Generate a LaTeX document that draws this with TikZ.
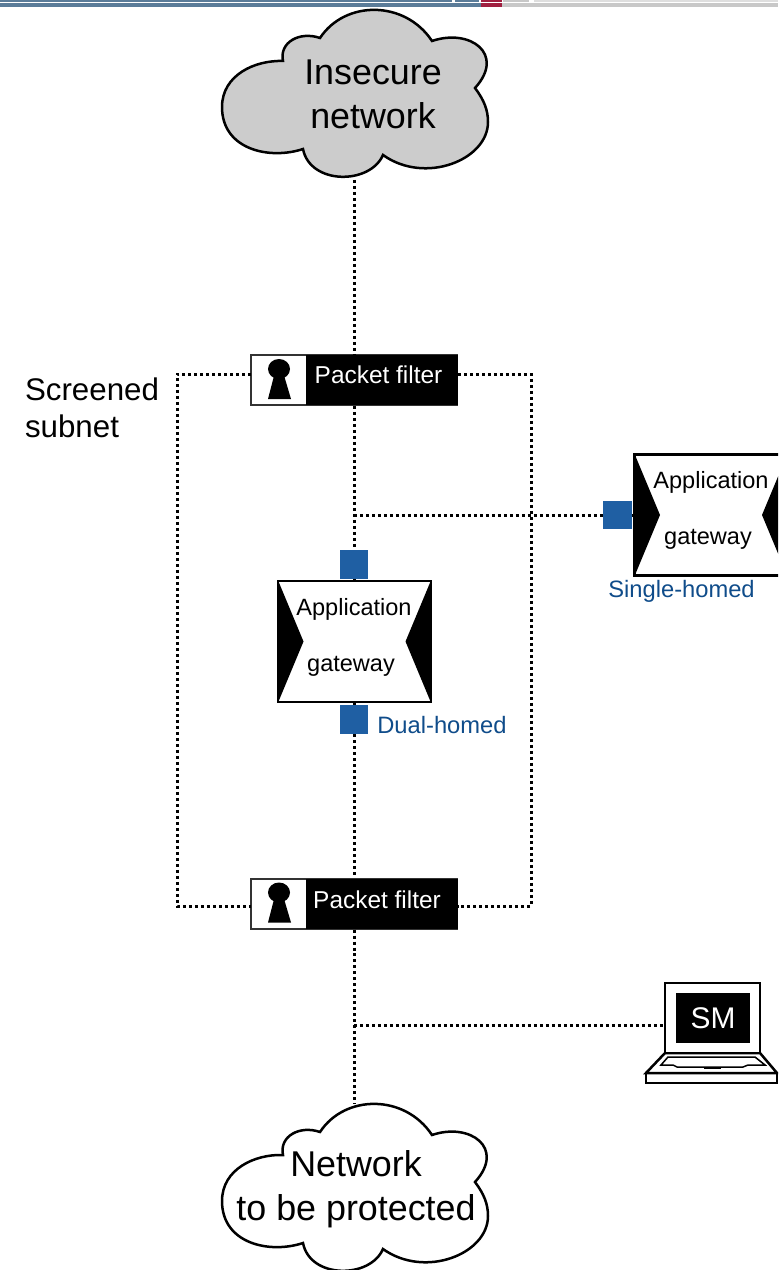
\documentclass[tikz,border=0pt]{standalone}
\usepackage{fontspec}
\setmainfont{Liberation Sans}
\definecolor{cloudgray}{HTML}{CCCCCC}
\definecolor{portblue}{HTML}{1F5FA3}
\definecolor{notetext}{HTML}{0F4C8A}
\definecolor{barblue}{HTML}{5B7C99}
\definecolor{barred}{HTML}{A01F40}
\definecolor{bargray}{HTML}{C8C8C8}
\tikzset{
	netline/.style={line width=0.06cm, dash pattern=on 0.06cm off 0.06cm},
	boxtext/.style={font=\fontsize{13.4}{16}\selectfont},
	filtertext/.style={font=\fontsize{13.9}{16}\selectfont, text=white},
	bigtext/.style={font=\fontsize{20.4}{25}\selectfont, align=center},
	notelabel/.style={font=\fontsize{13.5}{16}\selectfont, text=notetext, anchor=west, inner sep=0},
	portbox/.style={fill=portblue, minimum size=0.57cm, inner sep=0},
	netcloud/.pic={
		\draw [line width=0.05cm, pic actions] (-71, -33) .. controls (-75, -52) and (-54, -63) .. (-34, -56)
		 .. controls (-9, -94) and (51, -94) .. (78, -53)
		 .. controls (116, -66) and (152, -40) .. (121, -6)
		 .. controls (130, 6) and (134, 16) .. (134, 28)
		 .. controls (134, 66) and (71, 91) .. (29, 61)
		 .. controls (16, 91) and (-44, 91) .. (-51, 55)
		 .. controls (-84, 66) and (-132, 56) .. (-132, 13)
		 .. controls (-132, -19) and (-99, -34) .. (-71, -33) -- cycle;
	},
	appgateway/.pic={
		\node [draw, line width=0.05cm, fill=white, minimum width=3.06cm, minimum height=2.42cm, inner sep=0] (-box) at (0, 0) {};
		\fill [black] (-76, -60) -- (-51, 0) -- (-76, 60) -- cycle;
		\fill [black] (76, -60) -- (51, 0) -- (76, 60) -- cycle;
	},
	packetfilter/.pic={
		\node [draw=black!80, line width=0.04cm, fill=white, minimum width=4.14cm, minimum height=1cm, inner sep=0] (-box) at (0, 0) {};
		\fill [black] (-48, -25) rectangle (103.5, 25);
		\fill [black] (-75, -11) ellipse [x radius=11, y radius=10];
		\fill [black] (-79, -8) -- (-71, -8) -- (-63, 19) -- (-86, 19) -- cycle;
	},
}

\begin{document}
\begin{tikzpicture}[x=0.02cm, y=-0.02cm]
		\path [use as bounding box] (0, 0) rectangle (778, 1270);
		\clip (0, 0) rectangle (778, 1270);

		% strip along the top
		\fill [barblue] (0, 0) rectangle (452, 2);
		\fill [barblue] (455, 0) rectangle (479, 2);
		\fill [barred] (481, 0) rectangle (502, 2);
		\fill [bargray] (503, 0) rectangle (529, 2);
		\fill [bargray!60] (534, 0) rectangle (778, 2);
		\fill [barblue] (0, 3) rectangle (481, 7);
		\fill [barred] (481, 3) rectangle (502, 7);
		\fill [bargray] (502, 3) rectangle (778, 7);

		\pic [fill=cloudgray] (insecure) at (354, 94) {netcloud};
		\node [bigtext] (insecuretext) at (373, 94) {Insecure\\network};
		\coordinate (insecureport) at (354, 180);

		\pic (pfa) at (354, 380) {packetfilter};
		\node [filtertext] (pfatext) at (378.5, 375) {Packet filter};
		\coordinate (pfaleft) at (251, 374);
		\coordinate (pfaright) at (458, 374);

		\node [font=\fontsize{17.8}{21}\selectfont, align=left, inner sep=0] (subnet) at (92, 408) {Screened\\subnet};

		\node [portbox] (topport) at (354, 564.5) {};
		\pic (gwa) at (354.5, 641.5) {appgateway};
		\node [boxtext] (gwatop) at (354, 609) {Application};
		\node [boxtext] (gwabot) at (351, 666) {gateway};
		\coordinate (gwain) at (354, 581);
		\coordinate (gwaout) at (354, 702);
		\node [portbox] (botport) at (354, 719.5) {};
		\node [notelabel] (dual) at (377, 725) {Dual-homed};

		\pic (gwb) at (711, 515) {appgateway};
		\node [boxtext] (gwbtop) at (711, 482) {Application};
		\node [boxtext] (gwbbot) at (708, 539) {gateway};
		\node [portbox] (sideport) at (617.5, 515) {};
		\node [notelabel] (single) at (608, 591) {Single-homed};
		\coordinate (branchtop) at (354, 515);

		\pic (pfb) at (354, 903.5) {packetfilter};
		\node [filtertext] (pfbtext) at (377, 900) {Packet filter};
		\coordinate (pfbleft) at (251, 906);
		\coordinate (pfbright) at (458, 906);

		\coordinate (lefttop) at (177, 374);
		\coordinate (leftbot) at (177, 906);
		\coordinate (righttop) at (531, 374);
		\coordinate (rightbot) at (531, 906);

		% laptop
		\draw [line width=0.05cm, fill=white] (646, 1073) rectangle (777, 1083);
		\draw [line width=0.05cm, fill=white] (646, 1073) -- (665, 1053) -- (760, 1053) -- (777, 1073) -- cycle;
		\draw [line width=0.03cm] (661, 1065) -- (668, 1057) -- (755, 1057) -- (765, 1065) -- (748, 1065) -- (743, 1067) -- (677, 1067) -- (673, 1065) -- cycle;
		\fill [black] (704, 1067) rectangle (721, 1069);
		\node [draw, line width=0.05cm, fill=white, minimum width=1.9cm, minimum height=1.4cm] (laptop) at (712.5, 1018) {};
		\node [fill=black, text=white, minimum width=1.48cm, minimum height=1cm, inner sep=0, font=\fontsize{17}{20}\selectfont] (smscreen) at (713, 1018) {SM};
		\coordinate (laptopport) at (665, 1025);
		\coordinate (branchbot) at (354, 1025);

		\pic (protected) at (354, 1188) {netcloud};
		\node [bigtext] (protectedtext) at (356, 1189.5) {Network\\to be protected};
		\coordinate (protectedport) at (354, 1104);

		\draw [netline] (insecureport) -- (pfa-box.north);
		\draw [netline] (pfa-box.south) -- (topport.north);
		\draw [netline] (topport.south) -- (gwain);
		\draw [netline] (gwaout) -- (botport.north);
		\draw [netline] (botport.south) -- (pfb-box.north);
		\draw [netline] (pfb-box.south) -- (protectedport);
		\draw [netline] (branchtop) -- (sideport.west);
		\draw [netline] (sideport.east) -- (gwb-box.west);
		\draw [netline] (branchbot) -- (laptopport);
		\draw [netline] (pfaleft) -- (lefttop) -- (leftbot) -- (pfbleft);
		\draw [netline] (pfaright) -- (righttop) -- (rightbot) -- (pfbright);

	\end{tikzpicture}
\end{document}
